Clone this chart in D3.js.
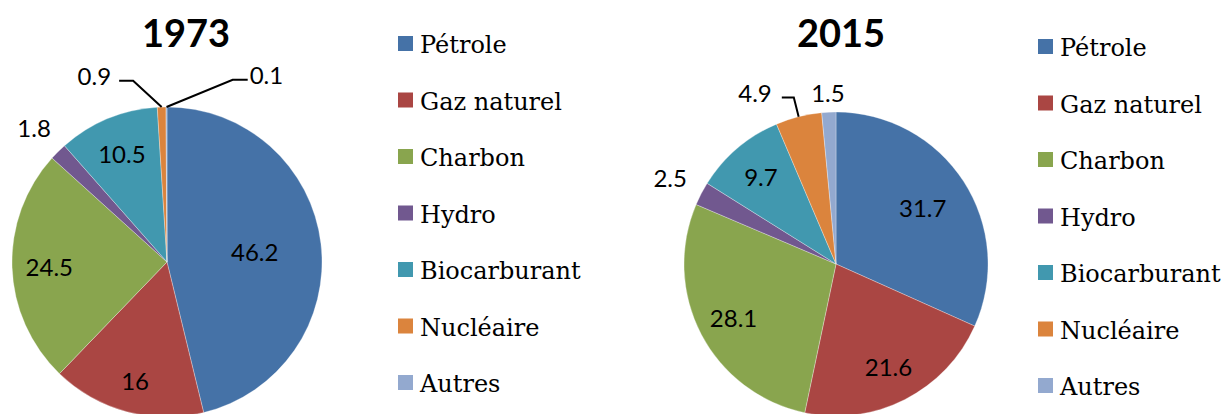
<!DOCTYPE html>
<html>
<head>
<meta charset="utf-8">
<script src="https://cdn.jsdelivr.net/npm/d3@7"></script>
<style>
  body { margin: 0; background: #fff; }
  svg { display: block; }
</style>
</head>
<body>
<svg width="1232" height="414"></svg>
<script>
let width = 1232;
let height = 414;

// data
let categories = ['Pétrole', 'Gaz naturel', 'Charbon', 'Hydro', 'Biocarburant', 'Nucléaire', 'Autres'];
let years = ['1973', '2015'];
let values1973 = [46.2, 16, 24.5, 1.8, 10.5, 0.9, 0.1];
let values2015 = [31.7, 21.6, 28.1, 2.5, 9.7, 4.9, 1.5];
let colors = ['#4572A7', '#AA4643', '#89A54E', '#71588F', '#4198AF', '#DB843D', '#93A9CF'];

let color = d3.scaleOrdinal().domain(categories).range(colors);

// layout of each pie: centre, radius, legend and label placement
let charts = [
  {
    title: years[0], values: values1973,
    cx: 167, cy: 262, r: 155, titleX: 186,
    legendX: 398, legendY: 36,
    labels: {
      'Pétrole': { rf: 0.57 },
      'Gaz naturel': { rf: 0.79 },
      'Hydro': { rf: 1.22, out: true },
      'Nucléaire': { rf: 1.19, shift: -8.6, leader: -14, gap: 8 },
      'Autres': { rf: 1.25, shift: 20, leader: 15, gap: 2 }
    }
  },
  {
    title: years[1], values: values2015,
    cx: 836, cy: 264, r: 152, titleX: 841,
    legendX: 1038, legendY: 39,
    labels: {
      'Pétrole': { rf: 0.68 },
      'Hydro': { rf: 1.23, out: true },
      'Nucléaire': { rf: 1.13, shift: 0, leader: -12, gap: 10 },
      'Autres': { rf: 1.13, out: true }
    }
  }
];

let svg = d3.select('svg');

let pie = d3.pie().sort(null).value(d => d.value);

let polar = (c, angle, rad) => [c.cx + Math.sin(angle) * rad, c.cy - Math.cos(angle) * rad];

charts.forEach(c => {
  let g = svg.append('g');
  let data = categories.map((k, i) => ({ key: k, value: c.values[i] }));
  let arcs = pie(data);
  let arc = d3.arc().innerRadius(0).outerRadius(c.r);

  g.selectAll('path.slice')
    .data(arcs)
    .enter()
      .append('path')
      .attr('class', 'slice')
      .attr('transform', `translate(${c.cx},${c.cy})`)
      .attr('d', arc)
      .attr('fill', d => color(d.data.key))
      .attr('stroke', '#fff')
      .attr('stroke-opacity', 0.5)
      .attr('stroke-width', 0.6)
  ;

  // title
  g.append('text')
    .attr('x', c.titleX)
    .attr('y', 47)
    .attr('text-anchor', 'middle')
    .style('font-family', 'Lato, "Liberation Sans", sans-serif')
    .style('font-weight', 'bold')
    .style('font-size', '38px')
    .attr('fill', '#000')
    .text(c.title)
  ;

  // data labels
  arcs.forEach(d => {
    let mid = (d.startAngle + d.endAngle) / 2;
    let opt = c.labels[d.data.key] || { rf: 0.76 };
    let lab = g.append('text')
      .style('font-family', 'Lato, "Liberation Sans", sans-serif')
      .style('font-size', '24px')
      .attr('fill', '#000')
      .attr('dominant-baseline', 'central')
      .text(d.data.value);

    if (opt.leader !== undefined) {
      let a = mid + (opt.shift || 0) * Math.PI / 180;
      let p0 = polar(c, mid, c.r);
      let p1 = polar(c, a, c.r * opt.rf);
      let p2 = [p1[0] + opt.leader, p1[1]];
      g.append('polyline')
        .attr('points', [p0, p1, p2].map(p => p.join(',')).join(' '))
        .attr('fill', 'none')
        .attr('stroke', '#000')
        .attr('stroke-width', 2)
      ;
      let dir = Math.sign(opt.leader);
      lab.attr('x', p2[0] + dir * opt.gap)
        .attr('y', p2[1] - 5)
        .attr('text-anchor', dir < 0 ? 'end' : 'start');
    } else {
      let p = polar(c, mid, c.r * opt.rf);
      lab.attr('x', p[0]).attr('y', p[1]).attr('text-anchor', 'middle');
    }
  });

  // legend
  let leg = g.append('g').attr('transform', `translate(${c.legendX},${c.legendY})`);
  let rows = leg.selectAll('g')
    .data(categories)
    .enter()
      .append('g')
      .attr('transform', (d, i) => `translate(0,${i * 56.5})`)
  ;
  rows.append('rect')
    .attr('width', 15)
    .attr('height', 15)
    .attr('fill', d => color(d))
  ;
  rows.append('text')
    .attr('x', 22)
    .attr('y', 17)
    .style('font-family', '"DejaVu Serif", serif')
    .style('font-size', '24px')
    .attr('fill', '#000')
    .text(d => d)
  ;
});
</script>
</body>
</html>
